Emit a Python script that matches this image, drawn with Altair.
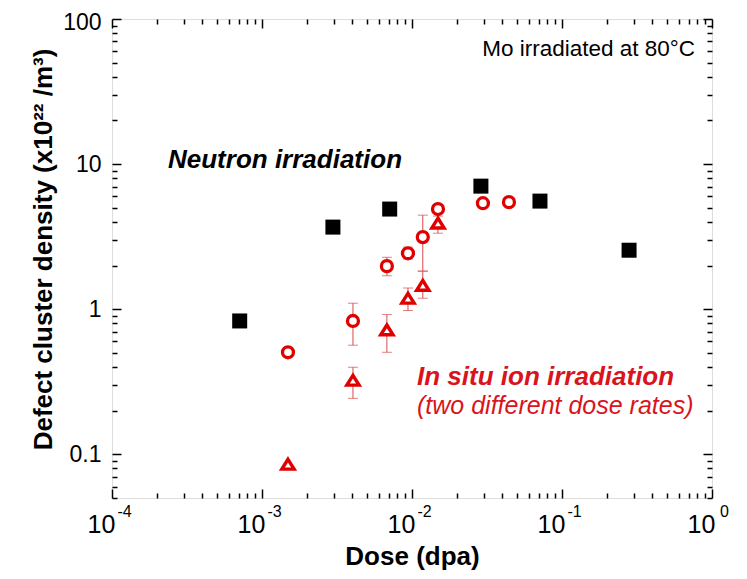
import altair as alt
import pandas as pd

# ---------------- data ----------------
neutron_dose = [7.1e-4, 2.97e-3, 7.1e-3, 0.0288, 0.0713, 0.28]
neutron_density = [0.83, 3.68, 4.9, 7.05, 5.56, 2.55]

circle_dose = [1.49e-3, 4.04e-3, 6.8e-3, 9.4e-3, 0.0118, 0.0149, 0.0297, 0.0443]
circle_density = [0.505, 0.83, 1.98, 2.43, 3.14, 4.9, 5.38, 5.47]
circle_low = [None, 0.565, 1.70, 2.22, 1.83, None, None, None]
circle_high = [None, 1.10, 2.28, 2.68, 4.45, None, None, None]

triangle_dose = [1.49e-3, 4.04e-3, 6.8e-3, 9.4e-3, 0.0118, 0.0149]
triangle_density = [0.0855, 0.324, 0.72, 1.19, 1.46, 3.92]
triangle_low = [None, 0.243, 0.505, 0.98, 1.19, 3.34]
triangle_high = [None, 0.398, 0.92, 1.40, 1.83, 4.38]

x_major = [1e-4, 1e-3, 1e-2, 1e-1, 1.0]
x_base_text = ["10", "10", "10", "10", "10"]
x_exp_text = ["-4", "-3", "-2", "-1", "0"]
y_major = [0.1, 1.0, 10.0, 100.0]

x_ticks = [round(m * 10.0 ** d, 8) for d in range(-4, 0) for m in range(1, 10)] + [1.0]
y_ticks = [round(m * 10.0 ** d, 8) for d in range(-2, 2) for m in range(1, 10)
           if m * 10.0 ** d >= 0.05 - 1e-12] + [100.0]

# ---------------- styling ----------------
W, H = 600, 479
RED = "#e00000"
ERR = "#d94a4a"
TXT_RED = "#d9141c"
FONT = "Liberation Sans"

x_scale = alt.Scale(type="log", domain=[1e-4, 1])
y_scale = alt.Scale(type="log", domain=[0.05, 100])

major_test = "abs(log(datum.value)/LN10 - round(log(datum.value)/LN10)) < 1e-6"
tick_size = {"condition": {"test": major_test, "value": 9}, "value": 5}


def label_expr(texts):
    return " : ".join(
        f"datum.value > {v * 0.5} && datum.value < {v * 2} ? '{t}'" for v, t in zip(x_major, texts)
    ) + " : ''"


x_label_axis = alt.Axis(orient="bottom", values=x_major, labelExpr=label_expr(x_base_text),
                        ticks=False, domain=False, grid=False, title="Dose (dpa)", labelFont=FONT,
                        labelFontSize=25, labelColor="black", labelPadding=14, labelOffset=-11,
                        labelFlush=False, labelOverlap=False, titleFont=FONT,
                        titleFontSize=26, titleFontWeight="bold", titleColor="black",
                        titlePadding=6)
x_exp_axis = alt.Axis(orient="bottom", values=x_major, labelExpr=label_expr(x_exp_text),
                      ticks=False, domain=False, grid=False, title=None, labelFont=FONT,
                      labelFontSize=16, labelColor="black", labelPadding=5, labelOffset=12,
                      labelFlush=False, labelOverlap=False)
y_label_axis = alt.Axis(orient="left", values=y_major, format="~g", ticks=False, domain=False,
                        grid=False, title="Defect cluster density (x10\u00b2\u00b2 /m\u00b3)",
                        labelFont=FONT, labelFontSize=23, labelColor="black", labelPadding=11,
                        labelOffset={"condition": {"test": "datum.value > 50", "value": 3},
                                     "value": 0},
                        labelFlush=False, labelOverlap=False, titleFont=FONT, titleFontSize=26,
                        titleFontWeight="bold", titleColor="black", titlePadding=6,
                        titleY=230)


def tick_axis(orient, values, offset):
    return alt.Axis(orient=orient, offset=offset, values=values, labels=False, domain=False,
                    grid=False, title=None, tickSize=tick_size, tickWidth=1.5,
                    tickColor="black")


df_n = pd.DataFrame({"dose": neutron_dose, "density": neutron_density})
df_c = pd.DataFrame({"dose": circle_dose, "density": circle_density,
                     "low": circle_low, "high": circle_high})
df_t = pd.DataFrame({"dose": triangle_dose, "density": triangle_density,
                     "low": triangle_low, "high": triangle_high})
df_err = pd.concat([df_c, df_t]).dropna()

squares = alt.Chart(df_n).mark_point(shape="square", filled=True, color="black", size=225,
                                     opacity=1).encode(
    x=alt.X("dose:Q", scale=x_scale, axis=x_label_axis),
    y=alt.Y("density:Q", scale=y_scale, axis=y_label_axis),
)

err_rules = alt.Chart(df_err).mark_rule(color=ERR, strokeWidth=1).encode(
    x=alt.X("dose:Q", scale=x_scale, axis=x_exp_axis),
    y=alt.Y("low:Q", scale=y_scale, axis=None),
    y2="high:Q",
)
cap_low = alt.Chart(df_err).mark_tick(color=ERR, thickness=1, size=10, orient="horizontal").encode(
    x=alt.X("dose:Q", scale=x_scale, axis=None),
    y=alt.Y("low:Q", scale=y_scale, axis=None),
)
cap_high = alt.Chart(df_err).mark_tick(color=ERR, thickness=1, size=10, orient="horizontal").encode(
    x=alt.X("dose:Q", scale=x_scale, axis=None),
    y=alt.Y("high:Q", scale=y_scale, axis=None),
)

circles = alt.Chart(df_c).mark_point(shape="circle", filled=True, fill="white", stroke=RED,
                                     strokeWidth=3.3, size=120, opacity=1, fillOpacity=1).encode(
    x=alt.X("dose:Q", scale=x_scale, axis=tick_axis("top", x_ticks, -H)),
    y=alt.Y("density:Q", scale=y_scale, axis=tick_axis("right", y_ticks, -W)),
)
triangles = alt.Chart(df_t).mark_point(shape="M0,-0.8L1,0.8L-1,0.8Z", filled=True, fill="white",
                                       stroke=RED, strokeWidth=3.4, size=150, opacity=1,
                                       fillOpacity=1).encode(
    x=alt.X("dose:Q", scale=x_scale, axis=tick_axis("bottom", x_ticks, -H)),
    y=alt.Y("density:Q", scale=y_scale, axis=tick_axis("left", y_ticks, -W)),
)

txt = pd.DataFrame({"k": [0]})
t_mo = alt.Chart(txt).mark_text(text="Mo irradiated at 80\u00b0C", font=FONT, fontSize=22.5,
                                color="black", align="right", baseline="middle", x=583, y=30)
t_neu = alt.Chart(txt).mark_text(text="Neutron irradiation", font=FONT, fontSize=26,
                                 fontWeight="bold", fontStyle="italic", color="black",
                                 align="left", baseline="middle", x=56, y=141)
t_ion = alt.Chart(txt).mark_text(text="In situ ion irradiation", font=FONT, fontSize=26,
                                 fontWeight="bold", fontStyle="italic", color=TXT_RED,
                                 align="left", baseline="middle", x=305, y=358)
t_rate = alt.Chart(txt).mark_text(text="(two different dose rates)", font=FONT, fontSize=25,
                                  fontStyle="italic", color=TXT_RED, align="left",
                                  baseline="middle", x=305, y=387)

chart = alt.layer(
    squares, err_rules, cap_low, cap_high, circles, triangles, t_mo, t_neu, t_ion, t_rate
).resolve_axis(x="independent", y="independent").properties(
    width=W, height=H,
    autosize=alt.AutoSizeParams(type="none"),
    padding={"left": 104, "top": 11, "right": 27, "bottom": 73},
).configure_view(stroke="black", strokeWidth=1.5).configure(background="white")

chart.save("out.html", embed_options={"renderer": "svg", "actions": False})
